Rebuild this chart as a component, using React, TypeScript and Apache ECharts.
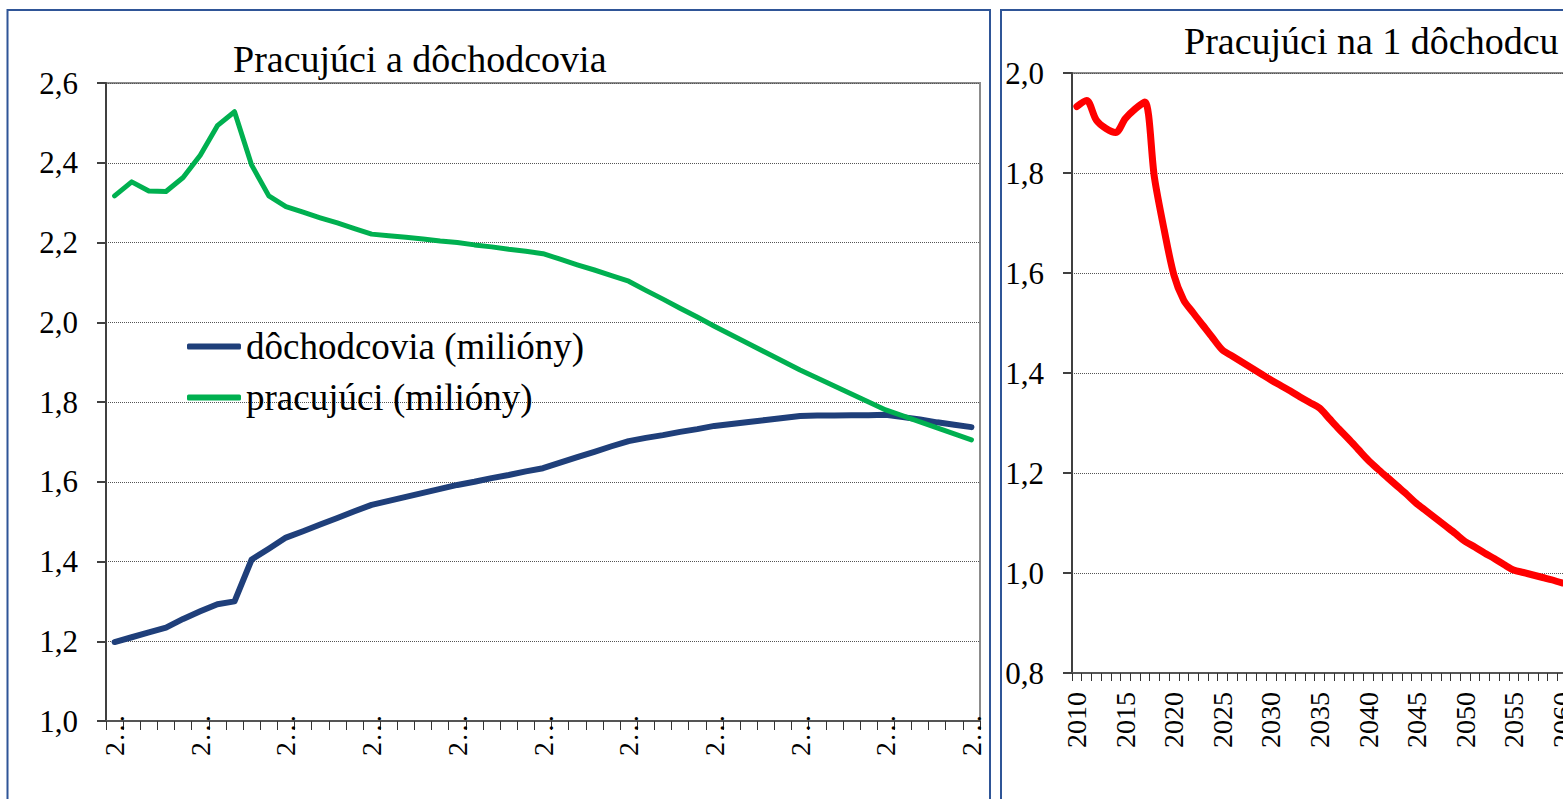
import React, { useEffect, useRef } from "react";
import * as echarts from "echarts";

const years = [
  "2010", "2011", "2012", "2013", "2014", "2015", "2016", "2017", "2018", "2019",
  "2020", "2021", "2022", "2023", "2024", "2025", "2026", "2027", "2028", "2029",
  "2030", "2031", "2032", "2033", "2034", "2035", "2036", "2037", "2038", "2039",
  "2040", "2041", "2042", "2043", "2044", "2045", "2046", "2047", "2048", "2049",
  "2050", "2051", "2052", "2053", "2054", "2055", "2056", "2057", "2058", "2059",
  "2060",
];

// dôchodcovia (milióny)
const retirees = [
  1.198, 1.21, 1.222, 1.234, 1.256, 1.275, 1.293, 1.3, 1.405, 1.432,
  1.46, 1.476, 1.493, 1.509, 1.526, 1.542, 1.552, 1.562, 1.572, 1.582,
  1.592, 1.6, 1.609, 1.617, 1.626, 1.634, 1.648, 1.662, 1.675, 1.689,
  1.702, 1.71, 1.717, 1.725, 1.732, 1.74, 1.745, 1.75, 1.755, 1.76,
  1.765, 1.766, 1.766, 1.767, 1.767, 1.768, 1.762, 1.756, 1.749, 1.743,
  1.737,
];

// pracujúci (milióny)
const workers = [
  2.317, 2.352, 2.329, 2.328, 2.363, 2.419, 2.493, 2.528, 2.394, 2.317,
  2.29, 2.276, 2.262, 2.249, 2.235, 2.221, 2.217, 2.213, 2.209, 2.204,
  2.2, 2.194, 2.189, 2.183, 2.178, 2.172, 2.158, 2.144, 2.131, 2.117,
  2.103, 2.08, 2.058, 2.035, 2.013, 1.99, 1.968, 1.946, 1.924, 1.902,
  1.88, 1.86, 1.84, 1.82, 1.8, 1.78, 1.765, 1.75, 1.735, 1.72,
  1.705,
];

// Pracujúci na 1 dôchodcu
const ratio = [
  1.933, 1.945, 1.906, 1.889, 1.881, 1.909, 1.928, 1.942, 1.79, 1.686,
  1.596, 1.546, 1.52, 1.495, 1.47, 1.446, 1.434, 1.422, 1.41, 1.398,
  1.386, 1.375, 1.364, 1.352, 1.341, 1.33, 1.309, 1.288, 1.268, 1.247,
  1.226, 1.208, 1.191, 1.174, 1.157, 1.139, 1.124, 1.109, 1.094, 1.079,
  1.063, 1.052, 1.04, 1.029, 1.017, 1.006, 1.001, 0.996, 0.991, 0.986,
  0.98,
];

const titleLeft = "Pracujúci a dôchodcovia";
const titleRight = "Pracujúci na 1 dôchodcu";
const nameRetirees = "dôchodcovia (milióny)";
const nameWorkers = "pracujúci (milióny)";

const FONT = "Liberation Serif";
const fmt = (v: number) => v.toFixed(1).replace(".", ",");

export default function App() {
  const ref = useRef<HTMLDivElement>(null);

  useEffect(() => {
    if (!ref.current) return;
    const chart = echarts.init(ref.current, undefined, { renderer: "svg" });

    const yAxisBase = (gridIndex: number, min: number, max: number) => ({
      type: "value",
      gridIndex,
      min,
      max,
      interval: 0.2,
      axisLine: { show: true, lineStyle: { color: "#404040", width: 2 } },
      axisTick: { show: true, length: 9, lineStyle: { color: "#404040", width: 2 } },
      axisLabel: {
        formatter: fmt,
        fontFamily: FONT,
        fontSize: 31,
        color: "#000",
        margin: 28,
      },
      splitLine: { show: true, lineStyle: { type: "dotted", color: "#555", width: 1 } },
    });

    const option: any = {
      animation: false,
      backgroundColor: "#ffffff",
      textStyle: { fontFamily: FONT },
      title: [
        {
          text: titleLeft,
          left: 233,
          top: 40,
          padding: 0,
          textStyle: { fontFamily: FONT, fontSize: 38, fontWeight: "normal", color: "#000" },
        },
        {
          text: titleRight,
          left: 1184,
          top: 22,
          padding: 0,
          textStyle: { fontFamily: FONT, fontSize: 38, fontWeight: "normal", color: "#000" },
        },
      ],
      legend: {
        orient: "vertical",
        left: 187,
        top: 328,
        padding: 0,
        itemWidth: 54,
        itemHeight: 6,
        itemGap: 14,
        icon: "roundRect",
        textStyle: { fontFamily: FONT, fontSize: 37, color: "#000" },
        data: [nameRetirees, nameWorkers],
      },
      grid: [
        {
          left: 106,
          top: 83,
          width: 874,
          height: 638,
          show: true,
          borderColor: "#8c8c8c",
          borderWidth: 2,
          containLabel: false,
          outerBoundsMode: "none",
        },
        {
          left: 1072,
          top: 73,
          width: 495,
          height: 600,
          show: true,
          borderColor: "#8c8c8c",
          borderWidth: 2,
          containLabel: false,
          outerBoundsMode: "none",
        },
      ],
      xAxis: [
        {
          type: "category",
          gridIndex: 0,
          data: years,
          boundaryGap: true,
          axisLine: { lineStyle: { color: "#555", width: 2 } },
          axisTick: { show: true, interval: 0, length: 9, lineStyle: { color: "#333", width: 1 } },
          axisLabel: {
            interval: 4,
            rotate: 90,
            formatter: (v: string) => v.charAt(0) + "…",
            fontFamily: FONT,
            fontSize: 28,
            color: "#000",
            margin: -7,
          },
          splitLine: { show: false },
        },
        {
          type: "category",
          gridIndex: 1,
          data: years,
          boundaryGap: true,
          axisLine: { lineStyle: { color: "#555", width: 2 } },
          axisTick: { show: true, interval: 0, length: 8, lineStyle: { color: "#333", width: 1 } },
          axisLabel: {
            interval: 4,
            rotate: 90,
            fontFamily: FONT,
            fontSize: 28,
            color: "#000",
            margin: 19,
          },
          splitLine: { show: false },
        },
      ],
      yAxis: [yAxisBase(0, 1.0, 2.6), yAxisBase(1, 0.8, 2.0)],
      series: [
        {
          name: nameRetirees,
          type: "line",
          xAxisIndex: 0,
          yAxisIndex: 0,
          data: retirees,
          symbol: "none",
          showSymbol: false,
          lineStyle: { color: "#1F3F7A", width: 6, cap: "round", join: "round" },
          itemStyle: { color: "#1F3F7A" },
        },
        {
          name: nameWorkers,
          type: "line",
          xAxisIndex: 0,
          yAxisIndex: 0,
          data: workers,
          symbol: "none",
          showSymbol: false,
          lineStyle: { color: "#00B050", width: 5, cap: "round", join: "round" },
          itemStyle: { color: "#00B050" },
        },
        {
          name: titleRight,
          type: "line",
          xAxisIndex: 1,
          yAxisIndex: 1,
          data: ratio,
          symbol: "none",
          showSymbol: false,
          smooth: 0.3,
          lineStyle: { color: "#FF0000", width: 7, cap: "round", join: "round" },
          itemStyle: { color: "#FF0000" },
        },
      ],
      graphic: [
        {
          type: "rect",
          shape: { x: 7.5, y: 10, width: 982.5, height: 830 },
          style: { fill: "none", stroke: "#2F5597", lineWidth: 2 },
          silent: true,
          z: 100,
        },
        {
          type: "rect",
          shape: { x: 1001, y: 10, width: 700, height: 830 },
          style: { fill: "none", stroke: "#2F5597", lineWidth: 2 },
          silent: true,
          z: 100,
        },
      ],
    };

    chart.setOption(option);
    return () => chart.dispose();
  }, []);

  return (
    <div
      ref={ref}
      style={{ position: "fixed", left: 0, top: 0, width: "1563px", height: "799px", background: "#fff" }}
    />
  );
}
